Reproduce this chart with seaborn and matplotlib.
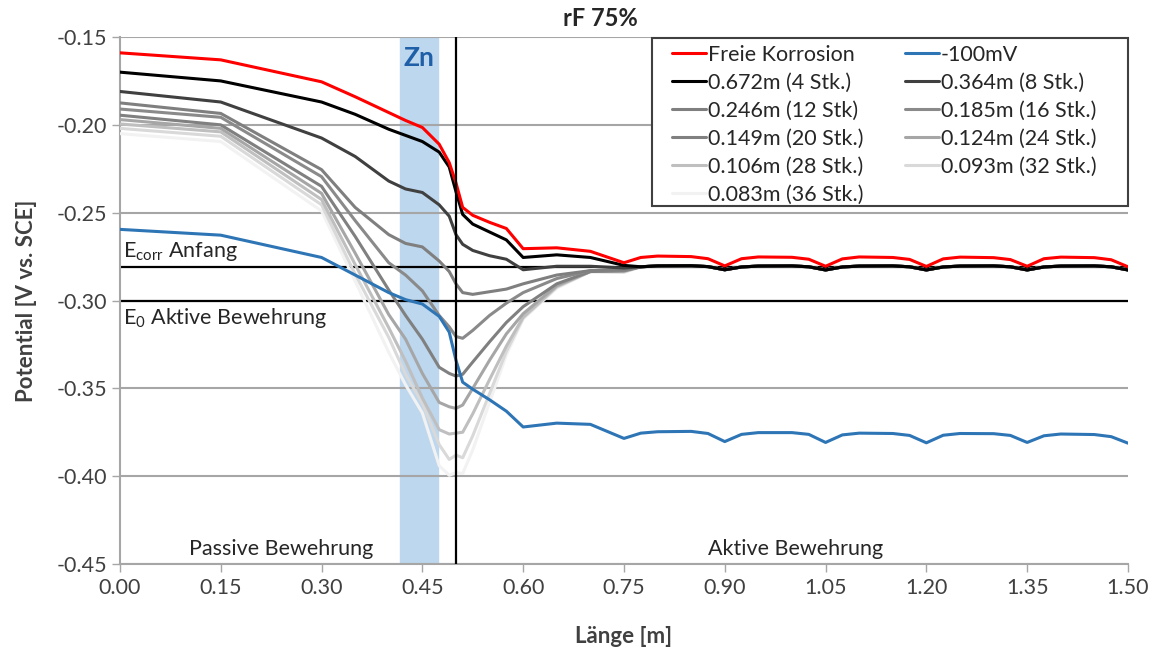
import matplotlib
matplotlib.use("Agg")
import matplotlib.pyplot as plt
from matplotlib.patches import Rectangle
import seaborn as sns

# Stützstellen (Länge in m)
x_kopf = [0.00, 0.15, 0.30, 0.35, 0.40, 0.425, 0.45, 0.475, 0.49, 0.50, 0.51,
          0.525, 0.55, 0.575, 0.60, 0.65, 0.70, 0.75]
x_ende = [0.775, 0.80, 0.85, 0.875, 0.90, 0.925, 0.95, 1.00, 1.025, 1.05,
          1.075, 1.10, 1.15, 1.175, 1.20, 1.225, 1.25, 1.30, 1.325, 1.35,
          1.375, 1.40, 1.45, 1.475, 1.50]

# Freie Korrosion
frei_kopf = [-0.159, -0.163, -0.1755, -0.184, -0.193, -0.1975, -0.2015, -0.211, -0.2215,
             -0.233, -0.247, -0.2515, -0.2555, -0.259, -0.2705, -0.270, -0.272, -0.2785]
frei_ende = [-0.2755, -0.2747, -0.2750, -0.2762, -0.2803, -0.2762, -0.2752, -0.2754, -0.2765,
             -0.2805, -0.2763, -0.2752, -0.2755, -0.2766, -0.2806, -0.2763, -0.2753, -0.2756,
             -0.2767, -0.2805, -0.2762, -0.2753, -0.2756, -0.2768, -0.2808]

# -100mV
mv100_kopf = [-0.2595, -0.2628, -0.2755, -0.2855, -0.2955, -0.2995, -0.302, -0.309, -0.318,
              -0.334, -0.3465, -0.3505, -0.3565, -0.363, -0.372, -0.3698, -0.3705, -0.3785]
mv100_ende = [-0.3755, -0.3747, -0.3745, -0.3757, -0.3803, -0.3762, -0.3752, -0.3752, -0.3762,
              -0.3808, -0.3765, -0.3755, -0.3757, -0.3768, -0.3810, -0.3767, -0.3757, -0.3758,
              -0.3768, -0.3808, -0.3770, -0.3760, -0.3763, -0.3775, -0.3812]

# Anoden-Abstände (gemeinsamer Verlauf ab 0.775 m)
grau_ende = [-0.2808, -0.2803, -0.2802, -0.2807, -0.2825, -0.2809, -0.2804, -0.2803, -0.2808,
             -0.2826, -0.2809, -0.2804, -0.2803, -0.2808, -0.2826, -0.2809, -0.2804, -0.2803,
             -0.2808, -0.2826, -0.2809, -0.2804, -0.2803, -0.2808, -0.2826]
g672 = [-0.170, -0.175, -0.187, -0.194, -0.2025, -0.206, -0.2095, -0.2155, -0.224, -0.238,
        -0.251, -0.2565, -0.261, -0.2655, -0.2755, -0.274, -0.2755, -0.280]
g364 = [-0.181, -0.187, -0.2075, -0.218, -0.232, -0.2365, -0.2385, -0.2455, -0.252, -0.2625,
        -0.268, -0.2715, -0.2745, -0.2765, -0.2825, -0.2805, -0.2805, -0.2815]
g246 = [-0.1875, -0.1935, -0.2255, -0.247, -0.2625, -0.2675, -0.2695, -0.2775, -0.2835, -0.2905,
        -0.2955, -0.2965, -0.295, -0.2935, -0.2905, -0.2855, -0.283, -0.2825]
g185 = [-0.191, -0.1957, -0.2295, -0.2545, -0.2785, -0.2855, -0.2945, -0.3085, -0.315, -0.3205,
        -0.3215, -0.317, -0.3085, -0.3015, -0.2955, -0.2875, -0.283, -0.2828]
g149 = [-0.1945, -0.2000, -0.235, -0.2635, -0.294, -0.3085, -0.322, -0.338, -0.3415, -0.343,
        -0.342, -0.335, -0.3235, -0.3125, -0.3035, -0.2905, -0.2835, -0.283]
g124 = [-0.197, -0.2020, -0.239, -0.273, -0.308, -0.322, -0.3415, -0.358, -0.3605, -0.3614,
        -0.3595, -0.350, -0.334, -0.319, -0.3075, -0.2915, -0.2835, -0.2832]
g106 = [-0.1995, -0.2040, -0.2425, -0.2795, -0.3155, -0.3345, -0.3555, -0.3735, -0.376, -0.3755,
        -0.375, -0.3645, -0.345, -0.326, -0.3095, -0.292, -0.2835, -0.2835]
g093 = [-0.202, -0.2065, -0.2455, -0.285, -0.321, -0.342, -0.3585, -0.382, -0.3905, -0.388,
        -0.3895, -0.377, -0.353, -0.329, -0.310, -0.2925, -0.2835, -0.2838]
g083 = [-0.205, -0.2095, -0.249, -0.289, -0.3295, -0.348, -0.364, -0.394, -0.3995, -0.398,
        -0.3985, -0.385, -0.358, -0.331, -0.3105, -0.293, -0.2836, -0.284]

namen = ["Freie Korrosion", "-100mV", "0.672m (4 Stk.)", "0.364m (8 Stk.)",
         "0.246m (12 Stk)", "0.185m (16 Stk.)", "0.149m (20 Stk.)", "0.124m (24 Stk.)",
         "0.106m (28 Stk.)", "0.093m (32 Stk.)", "0.083m (36 Stk.)"]
farben = ["#ff0000", "#2e75b6", "#000000", "#404040", "#7f7f7f", "#8a8a8a",
          "#808080", "#a6a6a6", "#bfbfbf", "#d9d9d9", "#f2f2f2"]
werte = [frei_kopf + frei_ende, mv100_kopf + mv100_ende,
         g672 + grau_ende, g364 + grau_ende, g246 + grau_ende, g185 + grau_ende,
         g149 + grau_ende, g124 + grau_ende, g106 + grau_ende, g093 + grau_ende,
         g083 + grau_ende]
x_alle = x_kopf + x_ende

y_ticks = [-0.45, -0.40, -0.35, -0.30, -0.25, -0.20, -0.15]
x_ticks = [0.00, 0.15, 0.30, 0.45, 0.60, 0.75, 0.90, 1.05, 1.20, 1.35, 1.50]

sns.set_style("white")
plt.rcParams['font.family'] = ['Lato', 'DejaVu Sans']
plt.rcParams['mathtext.fontset'] = 'custom'
plt.rcParams['mathtext.rm'] = 'Lato'

W, H = 1160, 654
fig = plt.figure(figsize=(11.6, 6.54), dpi=100)
ax = fig.add_axes([0.1034, 0.1376, 0.869, 0.8058])

ax.axvspan(0.417, 0.473, color="#bdd7ee", zorder=0)
for yt in y_ticks:
    ax.axhline(yt, color="#a6a6a6", lw=1.5, zorder=1)

# Zeichenreihenfolge: hellste Linie zuerst, rot zuletzt
reihenfolge = [10, 9, 8, 7, 6, 5, 4, 3, 2, 1, 0]
handles = {}
for i in reihenfolge:
    sns.lineplot(x=x_alle, y=werte[i], color=farben[i], lw=2.2, ax=ax,
                 sort=False, label=namen[i], zorder=3)
    handles[i] = ax.get_lines()[-1]

ax.axhline(-0.281, color="black", lw=1.6, zorder=2)
ax.axhline(-0.30, color="black", lw=1.6, zorder=2)
ax.axvline(0.5, color="black", lw=1.6, zorder=4)

ax.set_xlim(0, 1.5)
ax.set_ylim(-0.45, -0.15)
ax.set_xticks(x_ticks)
ax.set_xticklabels([f"{v:.2f}" for v in x_ticks])
ax.set_yticks(y_ticks)
ax.set_yticklabels([f"{v:.2f}" for v in y_ticks])
ax.tick_params(axis="both", labelsize=15.5, colors="#404040", length=6, width=1,
               direction="out", bottom=True, left=True)
ax.tick_params(axis="x", pad=4, color="#a6a6a6")
ax.tick_params(axis="y", pad=3, color="#a6a6a6")
for s in ["top", "right"]:
    ax.spines[s].set_visible(False)
for s in ["left", "bottom"]:
    ax.spines[s].set_color("#a6a6a6")
    ax.spines[s].set_linewidth(1.5)

ax.set_xlabel("Länge [m]", fontsize=16, fontweight="bold", color="#404040", labelpad=20)
ax.set_ylabel("Potential [V vs. SCE]", fontsize=16, fontweight="bold", color="#404040", labelpad=14)
fig.text(600 / W, 1 - 18 / H, "rF 75%", fontsize=17, fontweight="bold",
         ha="center", va="center", color="#262626")

ax.text(0.445, -0.162, "Zn", fontsize=19, fontweight="bold", color="#1f5fa8",
        ha="center", va="center", zorder=5)
ax.text(0.005, -0.2787, r"E$_{\mathrm{corr}}$ Anfang", fontsize=15.5, color="#262626",
        ha="left", va="bottom", zorder=5)
ax.text(0.005, -0.3032, r"E$_{0}$ Aktive Bewehrung", fontsize=15.5, color="#262626",
        ha="left", va="top", zorder=5)
ax.text(0.24, -0.4415, "Passive Bewehrung", fontsize=15.5, color="#262626",
        ha="center", va="center")
ax.text(1.005, -0.4415, "Aktive Bewehrung", fontsize=15.5, color="#262626",
        ha="center", va="center")

# Legendenrahmen separat, damit der seitliche Abstand stimmt
rahmen = Rectangle((652 / W, 1 - 206 / H), (1128 - 652) / W, (206 - 38) / H,
                   transform=fig.transFigure, facecolor="white", edgecolor="#404040",
                   lw=1.5, zorder=5, clip_on=False)
ax.add_patch(rahmen)

legende = [0, 2, 4, 6, 8, 10, 1, 3, 5, 7, 9]
leg = ax.legend([handles[i] for i in legende], [namen[i] for i in legende],
                ncol=2, loc="upper left", bbox_to_anchor=(672 / W, 1 - 45 / H),
                bbox_transform=fig.transFigure, borderaxespad=0, borderpad=0,
                fontsize=15.5, frameon=False, handlelength=1.6, handletextpad=0.05,
                columnspacing=1.95, labelspacing=0.37)
leg.set_zorder(6)

fig.savefig("out.png", dpi=100)
